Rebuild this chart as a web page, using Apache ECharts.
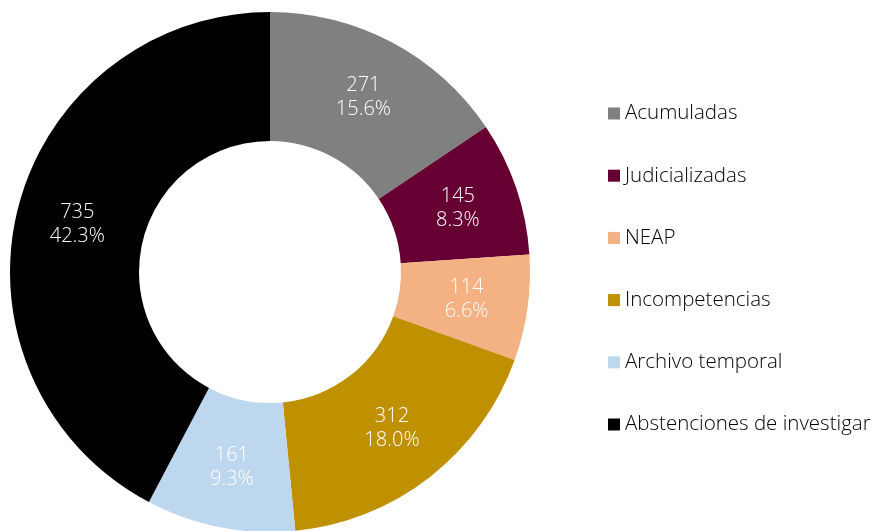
<!DOCTYPE html>
<html>
<head>
<meta charset="utf-8">
<script src="https://cdn.jsdelivr.net/npm/echarts@6/dist/echarts.min.js"></script>
<style>
  html, body { margin: 0; padding: 0; background: #fff; }
  #main { width: 874px; height: 531px; }
</style>
</head>
<body>
<div id="main"></div>
<script>
const categories = ['Acumuladas', 'Judicializadas', 'NEAP', 'Incompetencias', 'Archivo temporal', 'Abstenciones de investigar'];
const values = [271, 145, 114, 312, 161, 735];
const colors = ['#808080', '#660033', '#F4B183', '#BF9000', '#BDD7EE', '#000000'];

const total = values.reduce((a, b) => a + b, 0);
const myChart = echarts.init(document.getElementById('main'));

myChart.setOption({
  animation: false,
  color: colors,
  legend: {
    orient: 'vertical',
    left: 603,
    top: 98,
    icon: 'rect',
    itemWidth: 12,
    itemHeight: 12,
    itemGap: 41.2,
    data: categories,
    textStyle: {
      fontFamily: 'Open Sans',
      fontWeight: 300,
      fontSize: 20.5,
      color: '#000',
      lineHeight: 20
    }
  },
  series: [{
    type: 'pie',
    center: [270, 272],
    radius: [131, 260],
    startAngle: 90,
    clockwise: true,
    label: {
      position: 'inside',
      color: '#fff',
      fontFamily: 'Open Sans',
      fontWeight: 300,
      fontSize: 20,
      lineHeight: 24,
      formatter(p) {
        return p.value + '\n' + (p.value / total * 100).toFixed(1) + '%';
      }
    },
    labelLine: { show: false },
    emphasis: { disabled: true },
    data: categories.map((c, i) => ({ name: c, value: values[i] }))
  }]
});
</script>
</body>
</html>
